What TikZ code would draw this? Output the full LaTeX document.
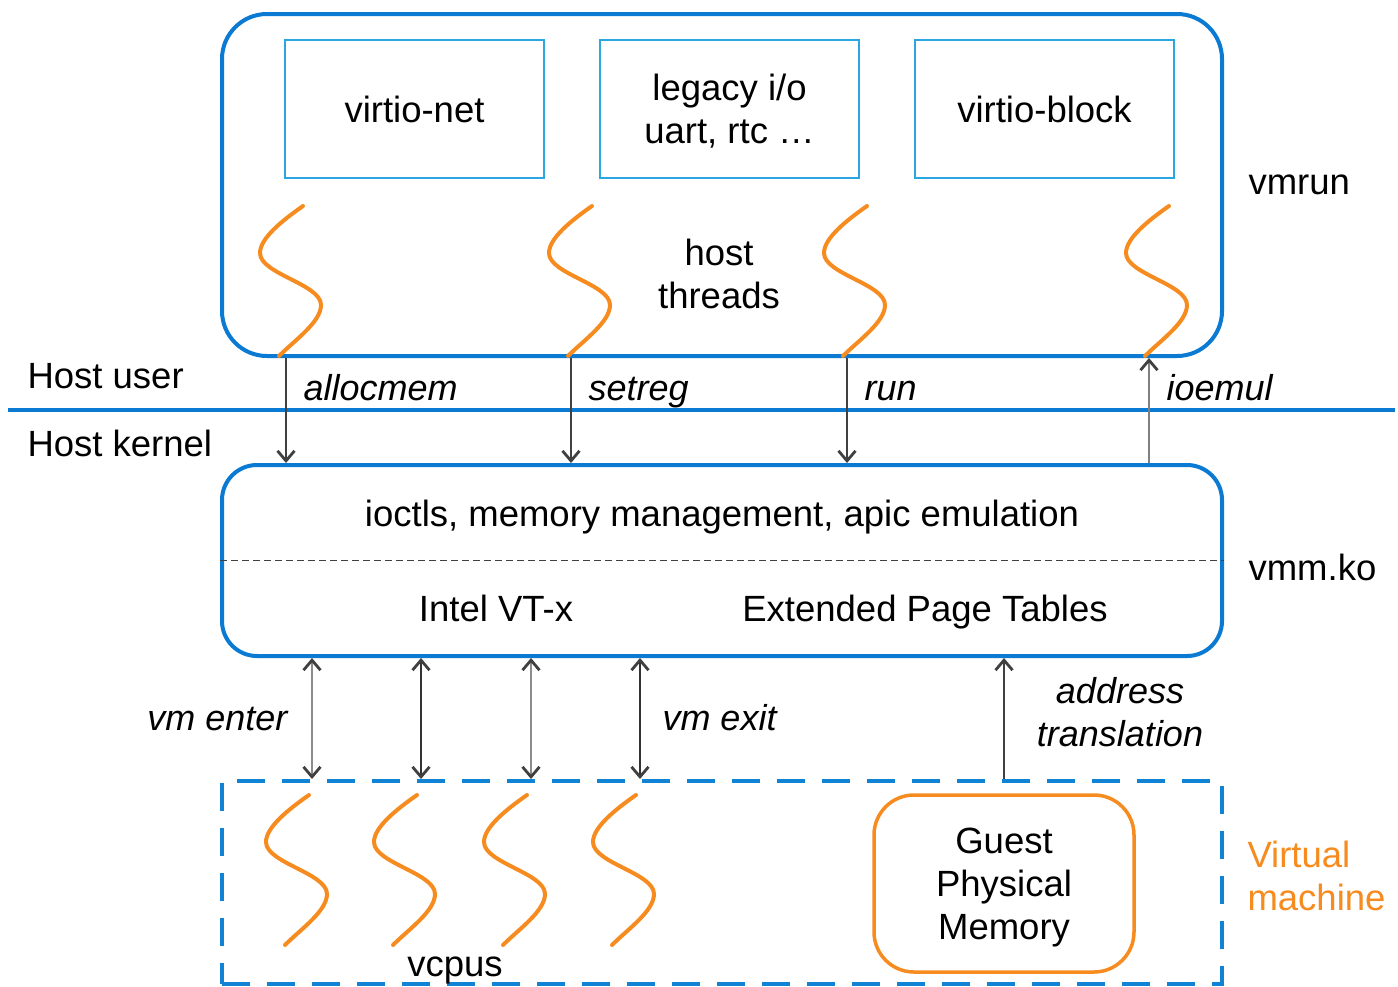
\documentclass[tikz,border=0pt]{standalone}
\usepackage{fontspec}
\setmainfont{Liberation Sans}
\usetikzlibrary{arrows.meta}

\definecolor{kvmblue}{HTML}{0A7AD2}
\definecolor{devblue}{HTML}{2CA6E0}
\definecolor{orng}{HTML}{F68B1F}

\tikzset{
  layer/.style={draw=kvmblue, line width=4pt, rounded corners=#1, minimum width=1000pt},
  devbox/.style={draw=devblue, line width=2pt, minimum width=259pt, minimum height=138pt, align=center},
  call/.style={->, line width=2pt, black!75},
  call label/.style={anchor=base west, font=\fontsize{36}{43}\selectfont\itshape},
  thread/.pic={\draw[orng, line width=4pt, line cap=round]
    (0,0) .. controls (-20,14) and (-43,32) .. (-43,47)
          .. controls (-43,68) and (18,78) .. (18,99)
          .. controls (18,116) and (-8,134) .. (-24,150);}
}

\begin{document}
\begin{tikzpicture}[x=1pt, y=-1pt, >={Straight Barb[length=10pt,width=17pt,line width=2.8pt]},
    font=\fontsize{36.5}{43}\selectfont]
			\useasboundingbox (0,0) rectangle (1398,986);
			% user space
			\node[layer=45pt, minimum height=342pt] (vmrun) at (722,185) {};
			\node[devbox] (net) at (414.5,109) {virtio-net};
			\node[devbox, text depth=0pt] (legacy) at (729.5,109) {legacy i/o\\uart, rtc …};
			\node[devbox] (blk) at (1044.5,109) {virtio-block};
			\node[align=center] (hthreads) at (719,274) {host\\threads};
			\foreach \x in {303,592,867,1169}
				\pic at (\x,206) {thread};
			\node[anchor=base west] (vmrunlbl) at (1245,194) {vmrun};
			% user / kernel boundary
			\draw[kvmblue, line width=3.5pt] (8,410) -- (1395,410);
			\node[anchor=base west] (huser) at (24,388) {Host user};
			\node[anchor=base west] (hkernel) at (24,456) {Host kernel};
			% kernel module
			\node[layer=35pt, minimum height=191pt] (vmm) at (722,560.5) {};
			\draw[black!75, line width=1.2pt, dash pattern=on 7pt off 4pt] (vmm.west) -- (vmm.east);
			\node[anchor=base] (ioctl) at (722,526) {ioctls, memory management, apic emulation};
			\node[anchor=base] (vtx) at (496,621) {Intel VT-x};
			\node[anchor=base] (ept) at (925,621) {Extended Page Tables};
			\node[anchor=base west] (vmmlbl) at (1245,580) {vmm.ko};
			\foreach \x/\lbl in {286/allocmem,571/setreg,847/run} {
				\draw[call] (vmrun.south -| \x,0) -- (vmm.north -| \x,0);
				\node[call label] at (\x+14,400) {\lbl};
			}
			\draw[call, black!50, -{Straight Barb[length=10pt,width=17pt,line width=2.8pt,color=black!75]}] (vmm.north -| 1149,0) -- (vmrun.south -| 1149,0);
			\node[call label] at (1163,400) {ioemul};
			% guest
			\node[layer=0pt, draw=kvmblue!80!devblue, dash pattern=on 28pt off 17pt, minimum height=203pt] (vm) at (722,882.5) {};
			\foreach \x/\c in {312/black!45,421/black!80,531/black!45,640/black!80}
				\draw[<->, line width=2pt, \c, >={Straight Barb[length=10pt,width=17pt,line width=2.8pt,color=black!75]}] (vmm.south -| \x,0) -- (vm.north -| \x,0);
			\foreach \x in {309,417,527,636}
				\pic at (\x,795) {thread};
			\node[anchor=base] (vcpus) at (455,976) {vcpus};
			\node[call label, anchor=base east] (enter) at (291,730) {vm enter};
			\node[call label] (exit) at (659,730) {vm exit};
			\node[draw=orng, line width=3.5pt, rounded corners=40pt, minimum width=260pt, minimum height=177pt, align=center, text depth=0pt] (gpm) at (1004,883.5) {Guest\\Physical\\Memory};
			\draw[call] (vm.north -| gpm) -- (vmm.south -| gpm);
			\node[call label, anchor=center, align=center] (xlate) at (1120,712) {address\\translation};
			\node[anchor=west, align=left, text=orng] (vmlbl) at (1244,876) {Virtual\\machine};
		\end{tikzpicture}
\end{document}
